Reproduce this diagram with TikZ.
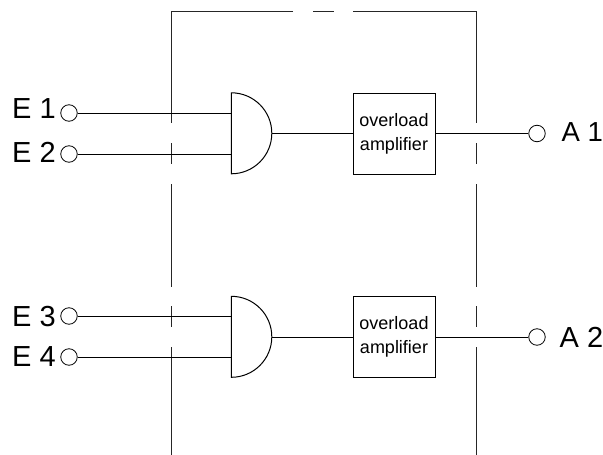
\documentclass[tikz,border=0pt]{standalone}
\usepackage{fontspec}
\setmainfont{Liberation Sans}
\tikzset{
    wire/.style={line width=1pt},
    frameline/.style={line width=1pt,black!85},
    terminal/.style={circle,draw,line width=0.8pt,minimum size=16.5pt,inner sep=0pt},
    pinlabel/.style={inner sep=0pt,font=\fontsize{29}{32}\selectfont},
    gatebox/.style={minimum width=40.5pt,minimum height=81pt,inner sep=0pt},
    ampbox/.style={draw,line width=1pt,minimum width=82pt,minimum height=81pt,inner sep=0pt,align=center,font=\fontsize{18}{24}\selectfont}
}
\begin{document}
\begin{tikzpicture}[x=1pt,y=-1pt]
                \useasboundingbox (0,0) rectangle (603,455);
                \draw [frameline] (293,11.5) -- (171,11.5) -- (171,123) ;
                \draw [frameline] (171,143) -- (171,164) ;
                \draw [frameline] (171,184) -- (171,287) ;
                \draw [frameline] (171,306) -- (171,327) ;
                \draw [frameline] (171,347) -- (171,455) ;
                \draw [frameline] (313,11.5) -- (334,11.5) ;
                \draw [frameline] (353,11.5) -- (476,11.5) -- (476,123) ;
                \draw [frameline] (476,143) -- (476,164) ;
                \draw [frameline] (476,184) -- (476,287) ;
                \draw [frameline] (476,306) -- (476,327) ;
                \draw [frameline] (476,347) -- (476,455) ;
                \node [pinlabel,anchor=west] (e1label) at (12,108.5) {E 1} ;
                \node [pinlabel,anchor=west] (e2label) at (12,152.5) {E 2} ;
                \node [pinlabel,anchor=west] (e3label) at (12,317) {E 3} ;
                \node [pinlabel,anchor=west] (e4label) at (12,357) {E 4} ;
                \node [pinlabel,anchor=west,font=\fontsize{27.5}{32}\selectfont] (a1label) at (561.5,132.5) {A 1} ;
                \node [pinlabel,anchor=west] (a2label) at (559.5,337) {A 2} ;
                \node [terminal] (e1) at (69,113) {} ;
                \node [terminal] (e2) at (69,154) {} ;
                \node [terminal] (e3) at (69,316) {} ;
                \node [terminal] (e4) at (69,357) {} ;
                \node [terminal] (a1) at (537,133.5) {} ;
                \node [terminal] (a2) at (537,337) {} ;
                \node [gatebox] (gate1) at (251.75,133.5) {} ;
                \node [gatebox] (gate2) at (251.75,337) {} ;
                \draw [wire] (gate1.north west) arc [start angle=90,end angle=-90,radius=40.5pt] -- cycle ;
                \draw [wire] (gate2.north west) arc [start angle=90,end angle=-90,radius=40.5pt] -- cycle ;
                \node [ampbox] (amp1) at (394,133.5) {overload\\amplifier} ;
                \node [ampbox] (amp2) at (394,337) {overload\\amplifier} ;
                \draw [wire] (e1) -- (e1 -| gate1.west) ;
                \draw [wire] (e2) -- (e2 -| gate1.west) ;
                \draw [wire] (e3) -- (e3 -| gate2.west) ;
                \draw [wire] (e4) -- (e4 -| gate2.west) ;
                \draw [wire] (gate1.east) -- (amp1) ;
                \draw [wire] (gate2.east) -- (amp2) ;
                \draw [wire] (amp1) -- (a1) ;
                \draw [wire] (amp2) -- (a2) ;
            \end{tikzpicture}
\end{document}
